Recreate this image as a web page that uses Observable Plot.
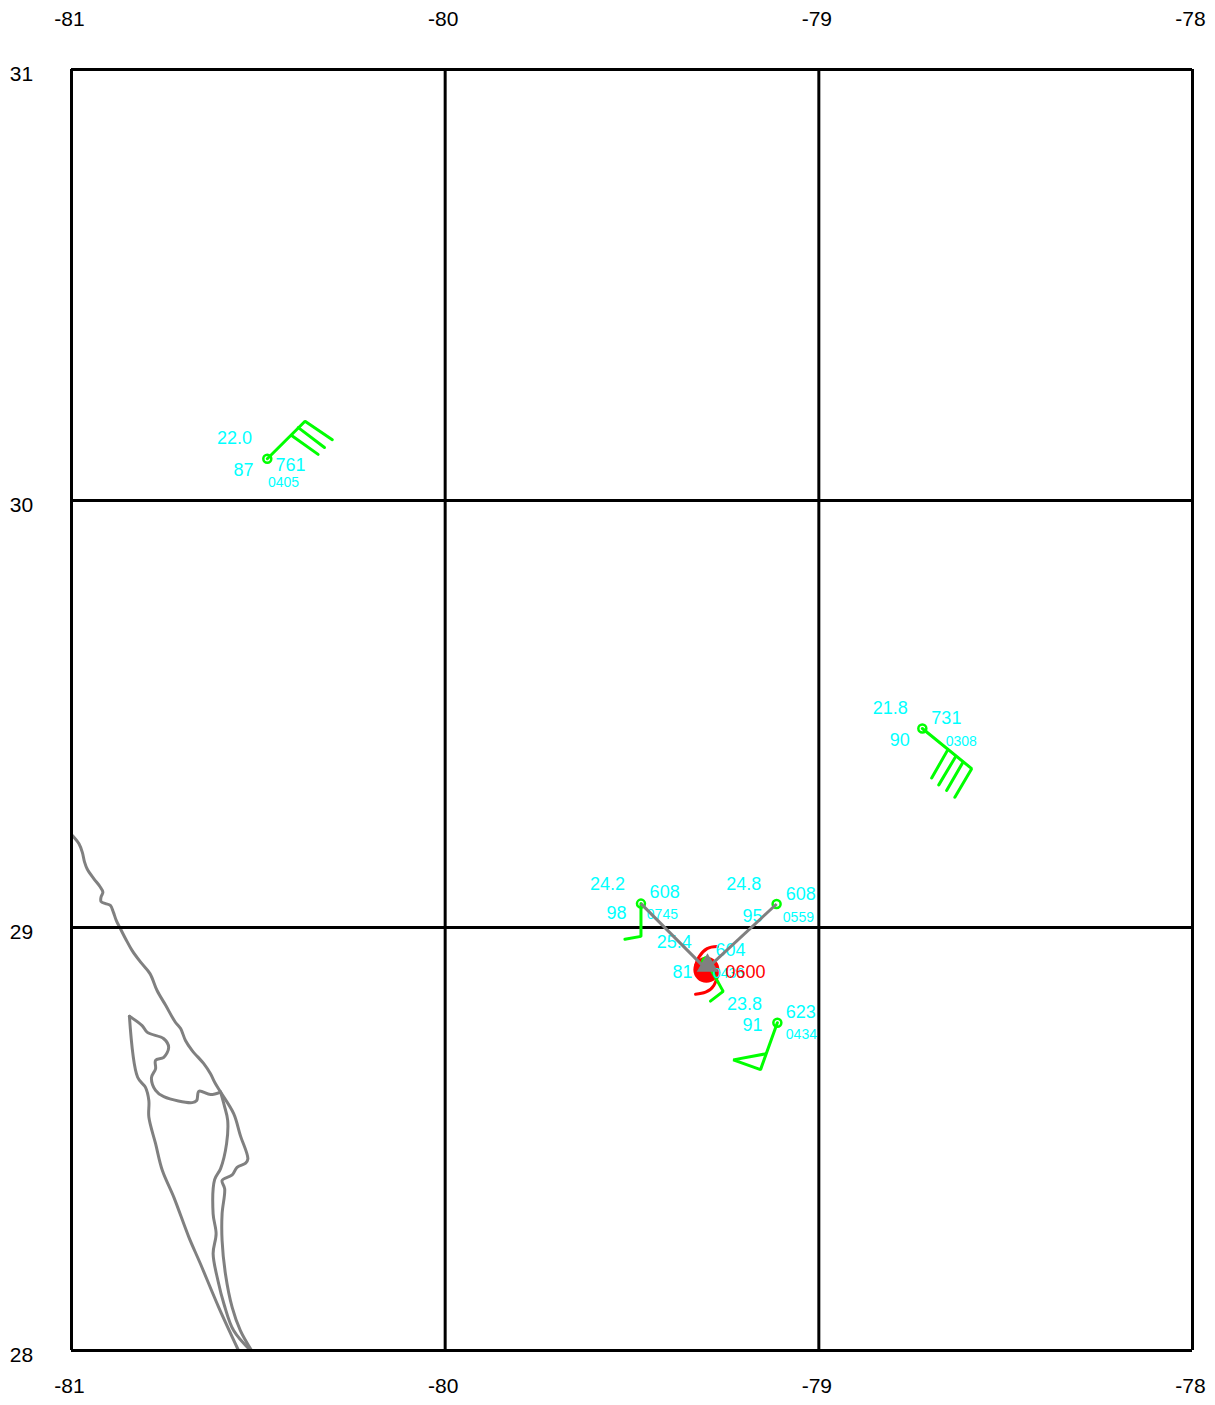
<!DOCTYPE html>
<html><head><meta charset="utf-8">
<script src="https://cdn.jsdelivr.net/npm/d3@7"></script>
<script src="https://cdn.jsdelivr.net/npm/@observablehq/plot@0.6"></script>
<style>html,body{margin:0;padding:0;background:#fff}svg{display:block}</style>
</head><body><div id="chart"></div>
<script>
const lonTicks = [-81, -80, -79, -78];
const latTicks = [28, 29, 30, 31];

// coastline polylines [lon, lat]
const coastOuter = [[-80.997,29.215],[-80.980,29.196],[-80.971,29.176],[-80.965,29.153],[-80.958,29.137],[-80.940,29.114],[-80.924,29.096],[-80.916,29.083],[-80.921,29.071],[-80.921,29.061],[-80.909,29.056],[-80.896,29.052],[-80.888,29.036],[-80.880,29.016],[-80.869,28.997],[-80.855,28.973],[-80.838,28.946],[-80.815,28.918],[-80.790,28.891],[-80.771,28.851],[-80.748,28.816],[-80.722,28.776],[-80.708,28.761],[-80.695,28.733],[-80.677,28.709],[-80.646,28.678],[-80.628,28.654],[-80.615,28.631],[-80.601,28.611],[-80.566,28.560],[-80.548,28.508],[-80.528,28.453],[-80.534,28.443],[-80.557,28.433],[-80.570,28.415],[-80.597,28.402],[-80.590,28.382],[-80.597,28.323],[-80.597,28.260],[-80.588,28.181],[-80.570,28.102],[-80.548,28.047],[-80.518,28.000]];
const coastInner = [[-80.601,28.611],[-80.591,28.579],[-80.582,28.544],[-80.585,28.489],[-80.601,28.430],[-80.617,28.404],[-80.621,28.323],[-80.613,28.276],[-80.621,28.229],[-80.608,28.165],[-80.592,28.110],[-80.566,28.047],[-80.521,28.000]];
const coastLagoonNorth = [[-80.601,28.611],[-80.628,28.605],[-80.659,28.613],[-80.665,28.591],[-80.677,28.586],[-80.753,28.600],[-80.775,28.615],[-80.786,28.645],[-80.775,28.666],[-80.775,28.686],[-80.753,28.693],[-80.740,28.717],[-80.753,28.737],[-80.797,28.752],[-80.811,28.768],[-80.845,28.790]];
const coastLagoonWest = [[-80.845,28.790],[-80.823,28.646],[-80.802,28.622],[-80.793,28.591],[-80.793,28.552],[-80.775,28.489],[-80.757,28.426],[-80.726,28.362],[-80.686,28.268],[-80.655,28.205],[-80.606,28.102],[-80.553,28.000]];

// observation stations
const stationLon = [-80.476, -78.723, -79.476, -79.113, -79.111, -79.301];
const stationLat = [30.097, 29.466, 29.056, 29.055, 28.775, 28.920];

// wind barb strokes as polylines [lon, lat]
const barbStrokes = [
  [[-80.476,30.097],[-80.375,30.184],[-80.302,30.141]],
  [[-80.393,30.169],[-80.323,30.123]],
  [[-80.411,30.151],[-80.340,30.107]],
  [[-78.723,29.466],[-78.591,29.372],[-78.636,29.305]],
  [[-78.615,29.386],[-78.658,29.321]],
  [[-78.634,29.400],[-78.679,29.334]],
  [[-78.655,29.416],[-78.698,29.350]],
  [[-79.476,29.056],[-79.476,28.979],[-79.519,28.972]],
  [[-79.111,28.775],[-79.156,28.664],[-79.229,28.687],[-79.145,28.701]],
  [[-79.301,28.920],[-79.256,28.849],[-79.290,28.826]]
];

// storm-relative motion arrows [lon1, lat1, lon2, lat2]
const motionArrows = [[-79.476,29.056,-79.309,28.908],[-79.113,29.055,-79.293,28.908]];
const motionHead = [[-79.298,28.910]];

// hurricane symbol
const stormCenter = [[-79.301,28.900]];
const stormArcTop = [[-79.272,28.955],[-79.299,28.950],[-79.321,28.930],[-79.330,28.910]];
const stormArcBottom = [[-79.330,28.842],[-79.303,28.847],[-79.281,28.863],[-79.268,28.894]];
const stormLabel = [["0600",-79.196,28.894]];

// station text [text, lon, lat]
const largeLabels = [
  ["22.0",-80.561,30.144],["87",-80.537,30.070],["761",-80.411,30.081],
  ["21.8",-78.806,29.513],["731",-78.656,29.489],["90",-78.781,29.438],
  ["24.2",-79.563,29.101],["608",-79.410,29.082],["98",-79.539,29.033],
  ["24.8",-79.198,29.101],["608",-79.046,29.077],["95",-79.175,29.026],
  ["23.8",-79.196,28.818],["623",-79.046,28.799],["91",-79.175,28.768],
  ["25.4",-79.384,28.965],["604",-79.234,28.946],["81",-79.362,28.894]
];
const timeLabels = [
  ["0405",-80.430,30.042],["0308",-78.616,29.436],["0745",-79.416,29.030],
  ["0559",-79.052,29.023],["0434",-79.044,28.747],["0436",-79.239,28.891]
];

const FONT = "Liberation Sans, Arial, sans-serif";
const stations = stationLon.map((lon, i) => [lon, stationLat[i]]);
const strokeRows = barbStrokes.flatMap((s, id) => s.map(([lon, lat]) => ({lon, lat, id})));
const coastStyle = {x: "0", y: "1", stroke: "#808080", strokeWidth: 3, curve: "catmull-rom"};

const chart = Plot.plot({
  width: 1215, height: 1405,
  marginLeft: 71, marginRight: 23, marginTop: 69, marginBottom: 55,
  style: {background: "#fff", fontFamily: FONT},
  x: {type: "linear", domain: [-81, -78]},
  y: {type: "linear", domain: [28, 29, 30, 31], range: [1350, 927, 500, 69]},
  marks: [
    Plot.line(coastOuter, coastStyle),
    Plot.line(coastInner, coastStyle),
    Plot.line(coastLagoonNorth, coastStyle),
    Plot.line(coastLagoonWest, coastStyle),
    Plot.ruleX(lonTicks, {stroke: "#000", strokeWidth: 3, strokeOpacity: 1}),
    Plot.ruleY(latTicks, {stroke: "#000", strokeWidth: 3, strokeOpacity: 1}),
    Plot.axisX(lonTicks, {anchor: "top", tickSize: 0, tickPadding: 44, dx: -2, fontSize: 21, tickFormat: d => String(d), label: null, fontFamily: FONT}),
    Plot.axisX(lonTicks, {anchor: "bottom", tickSize: 0, tickPadding: 28, dx: -2, fontSize: 21, tickFormat: d => String(d), label: null, fontFamily: FONT}),
    Plot.axisY(latTicks, {anchor: "left", tickSize: 0, tickPadding: 50, dy: 5, fontSize: 21, tickFormat: d => String(d), label: null, textAnchor: "middle", fontFamily: FONT}),
    Plot.dot(stormCenter, {x: "0", y: "1", r: 13, fill: "#ff0000", stroke: "none"}),
    Plot.line(stormArcTop, {x: "0", y: "1", stroke: "#ff0000", strokeWidth: 3, curve: "natural"}),
    Plot.line(stormArcBottom, {x: "0", y: "1", stroke: "#ff0000", strokeWidth: 3, curve: "natural"}),
    Plot.line(strokeRows, {x: "lon", y: "lat", z: "id", stroke: "#00ff00", strokeWidth: 3, strokeLinejoin: "miter"}),
    Plot.dot(stations, {x: "0", y: "1", r: 4, stroke: "#00ff00", strokeWidth: 2.5, fill: "none"}),
    Plot.text(largeLabels, {x: "1", y: "2", text: "0", dx: -1, fill: "#00ffff", fontSize: 18, fontFamily: FONT}),
    Plot.text(timeLabels, {x: "1", y: "2", text: "0", dx: -1, fill: "#00ffff", fontSize: 14, fontFamily: FONT}),
    Plot.text(stormLabel, {x: "1", y: "2", text: "0", fill: "#ff0000", fontSize: 18, fontFamily: FONT}),
    Plot.link(motionArrows, {x1: "0", y1: "1", x2: "2", y2: "3", stroke: "#808080", strokeWidth: 3}),
    Plot.dot(motionHead, {x: "0", y: "1", symbol: "triangle", r: 8, fill: "#808080", stroke: "none"})
  ]
});
document.getElementById("chart").appendChild(chart);
</script></body></html>
